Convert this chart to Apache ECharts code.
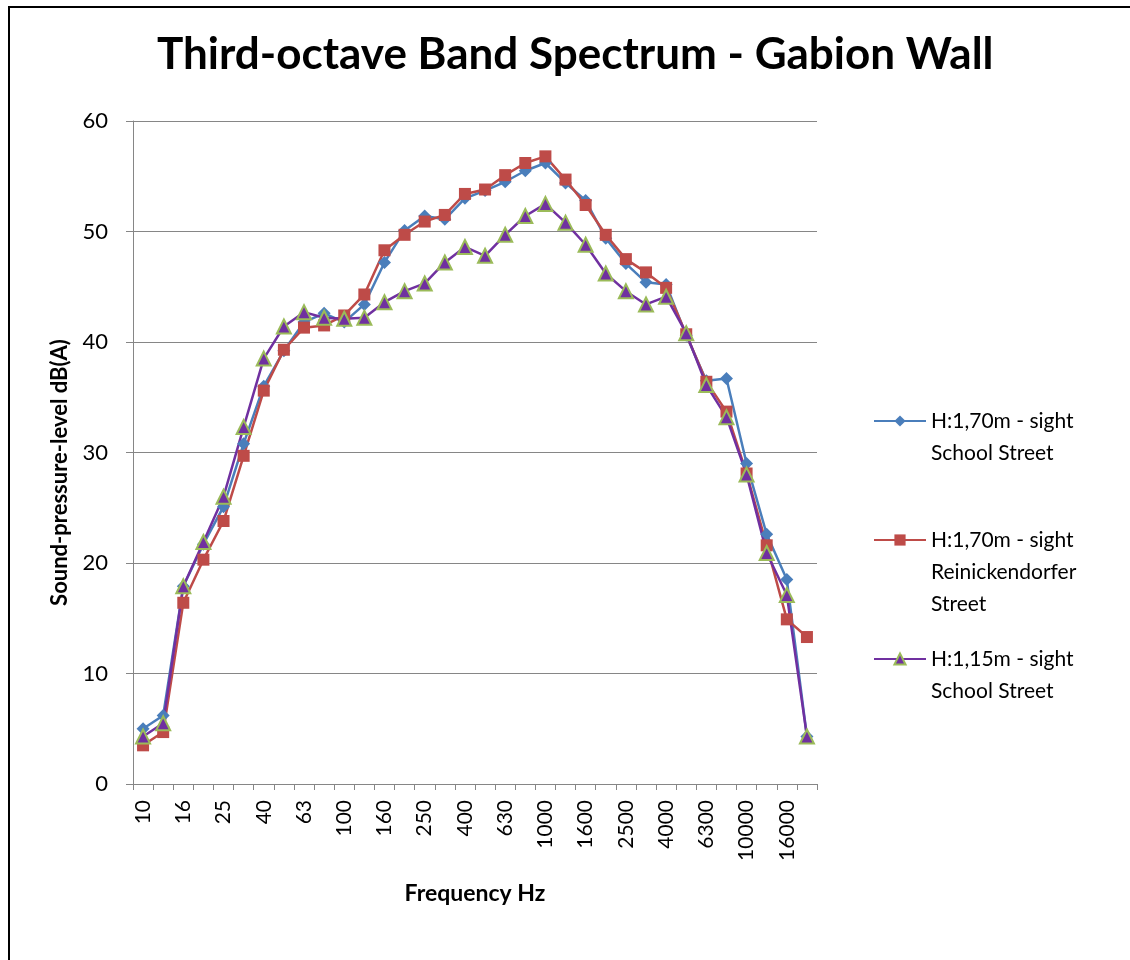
<!DOCTYPE html>
<html>
<head>
<meta charset="utf-8">
<script src="https://cdn.jsdelivr.net/npm/echarts@6/dist/echarts.min.js"></script>
<style>
html,body{margin:0;padding:0;background:#fff;}
#chart{width:1130px;height:960px;}
</style>
</head>
<body>
<div id="chart"></div>
<script>
var categories = ['10','12.5','16','20','25','31.5','40','50','63','80','100','125','160','200','250','315','400','500','630','800','1000','1250','1600','2000','2500','3150','4000','5000','6300','8000','10000','12500','16000','20000'];
var seriesNames = ['H:1,70m - sight School Street', 'H:1,70m - sight Reinickendorfer Street', 'H:1,15m - sight School Street'];
var legendLabels = ['H:1,70m - sight\nSchool Street', 'H:1,70m - sight\nReinickendorfer\nStreet', 'H:1,15m - sight\nSchool Street'];
var school170 = [5.0, 6.2, 17.9, 21.7, 25.1, 30.8, 36.0, 39.2, 41.8, 42.6, 41.8, 43.4, 47.2, 50.1, 51.4, 51.1, 53.0, 53.7, 54.5, 55.5, 56.2, 54.4, 52.8, 49.4, 47.1, 45.4, 45.2, 40.6, 36.5, 36.7, 29.0, 22.6, 18.5, 4.3];
var reinick170 = [3.5, 4.7, 16.4, 20.3, 23.8, 29.7, 35.6, 39.3, 41.3, 41.5, 42.4, 44.3, 48.3, 49.7, 50.9, 51.5, 53.4, 53.8, 55.1, 56.2, 56.8, 54.7, 52.4, 49.7, 47.5, 46.3, 44.9, 40.7, 36.4, 33.7, 28.1, 21.6, 14.9, 13.3];
var school115 = [4.3, 5.5, 17.9, 21.9, 26.0, 32.3, 38.5, 41.4, 42.7, 42.2, 42.1, 42.2, 43.6, 44.6, 45.3, 47.2, 48.6, 47.8, 49.7, 51.4, 52.5, 50.8, 48.8, 46.2, 44.6, 43.4, 44.1, 40.8, 36.1, 33.2, 28.0, 20.9, 17.1, 4.3];
var yTicks = {min: 0, max: 60, interval: 10};

var FONT = 'Lato, "Open Sans", sans-serif';
var chart = echarts.init(document.getElementById('chart'), null, {renderer: 'canvas'});

function legendFor(i, top) {
  return {
    orient: 'vertical', left: 873, top: top, padding: 0,
    itemWidth: 52, itemHeight: 14, itemGap: 0,
    data: [seriesNames[i]],
    formatter: function (n) {
      var lbl = legendLabels[seriesNames.indexOf(n)];
      var cnt = lbl.split('\n').length;
      // keep the first text line level with the legend icon
      return new Array(cnt).join('\n') + lbl;
    },
    textStyle: {fontFamily: FONT, fontSize: 21, lineHeight: 32, color: '#000'},
    selectedMode: false
  };
}

var option = {
  backgroundColor: '#fff',
  animation: false,
  title: {
    text: 'Third-octave Band Spectrum - Gabion Wall',
    left: 157, top: 33, padding: 0,
    textStyle: {fontFamily: FONT, fontWeight: 'bold', fontSize: 44, color: '#000'}
  },
  graphic: [{
    type: 'rect', silent: true,
    shape: {x: 9, y: 7, width: 1140, height: 1000},
    style: {fill: 'none', stroke: '#000', lineWidth: 2}
  }],
  legend: [legendFor(0, 373), legendFor(1, 460), legendFor(2, 611)],
  grid: {left: 133, right: 313, top: 121, bottom: 176, containLabel: false},
  xAxis: {
    type: 'category', data: categories, boundaryGap: true,
    name: 'Frequency Hz', nameLocation: 'middle', nameGap: 98,
    nameTextStyle: {fontFamily: FONT, fontWeight: 'bold', fontSize: 23, color: '#000'},
    axisLine: {show: true, lineStyle: {color: '#868686', width: 1}},
    axisTick: {show: true, interval: 0, length: 6, lineStyle: {color: '#868686'}},
    axisLabel: {interval: 1, rotate: 90, margin: 16, fontFamily: FONT, fontSize: 21, color: '#000'},
    splitLine: {show: false}
  },
  yAxis: {
    type: 'value', min: yTicks.min, max: yTicks.max, interval: yTicks.interval,
    name: 'Sound-pressure-level dB(A)', nameLocation: 'middle', nameGap: 62, nameRotate: 90,
    nameTextStyle: {fontFamily: FONT, fontWeight: 'bold', fontSize: 22, color: '#000', padding: [0, 40, 0, 0]},
    axisLine: {show: true, lineStyle: {color: '#868686', width: 1}},
    axisTick: {show: true, length: 7, lineStyle: {color: '#868686'}},
    axisLabel: {margin: 25, fontFamily: FONT, fontSize: 22, color: '#000'},
    splitLine: {show: true, lineStyle: {color: '#868686', width: 1}}
  },
  series: [
    {
      name: seriesNames[0], type: 'line', data: school170,
      symbol: 'diamond', symbolSize: 13, showAllSymbol: true,
      lineStyle: {color: '#4a7ebb', width: 2.5},
      itemStyle: {color: '#4a7ebb'}
    },
    {
      name: seriesNames[1], type: 'line', data: reinick170,
      symbol: 'rect', symbolSize: 12, showAllSymbol: true,
      lineStyle: {color: '#be4b48', width: 2.5},
      itemStyle: {color: '#be4b48'}
    },
    {
      name: seriesNames[2], type: 'line', data: school115,
      symbol: 'triangle', symbolSize: 14, showAllSymbol: true,
      lineStyle: {color: '#7030a0', width: 2.5},
      itemStyle: {color: '#7030a0', borderColor: '#9bbb59', borderWidth: 2}
    }
  ]
};
chart.setOption(option);
</script>
</body>
</html>
